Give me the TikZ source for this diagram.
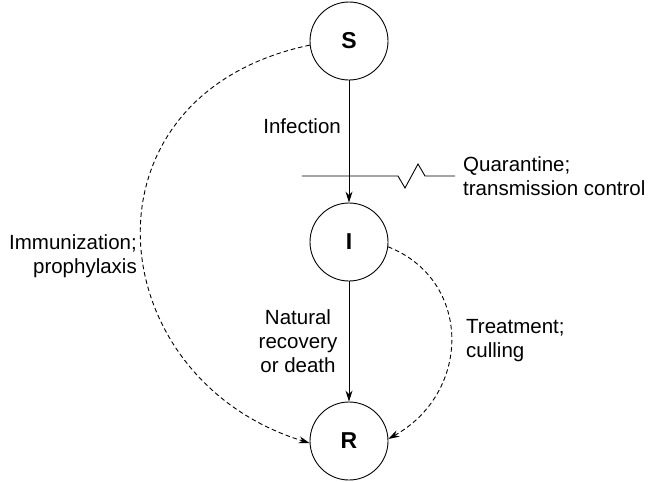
\documentclass[tikz,border=0pt]{standalone}
\usepackage{fontspec}
\setmainfont{Liberation Sans}
\usetikzlibrary{arrows.meta, positioning}

\begin{document}
\begin{tikzpicture}[x=1pt, y=-1pt,
        state/.style={draw, circle, minimum size=78pt, inner sep=0pt, line width=0.9pt,
            font=\fontsize{23}{26}\selectfont\bfseries},
        flow/.style={-{Stealth[length=11pt, width=7pt]}, line width=0.9pt},
        control/.style={flow, dash pattern=on 4.5pt off 3pt},
        note/.style={inner sep=0pt, font=\fontsize{20.5}{24}\selectfont}]

        \useasboundingbox (0,0) rectangle (659,482);

        \def\midx{349}

        \node[state] (S) at (\midx, 41) {S};
        \node[state] (I) at (\midx, 242) {I};
        \node[state] (R) at (\midx, 441) {R};

        \draw[flow] (S) -- (I);
        \draw[flow] (I) -- (R);
        \draw[control] (S.186) .. controls (72, 95) and (98, 378) .. (R.183);
        \draw[control] (I.-7) .. controls (472, 280) and (472, 392) .. (R.3);

        \coordinate (qstart) at (302, 176);
        \coordinate (qend) at (455, 176);
        \draw[line width=0.9pt] (qstart) -- (398, 176) -- (405, 188) -- (418, 164) -- (425, 176) -- (qend);

        \node[note, anchor=base east] (infection) at (341, 133) {Infection};
        \node[note, anchor=west, align=left] (quarantine) at (463, 176) {Quarantine;\\transmission control};
        \node[note, anchor=north, align=center] (natural) at (298, 309) {Natural\\recovery\\or death};
        \node[note, anchor=north east, align=right] (immunization) at (137, 234) {Immunization;\\prophylaxis};
        \node[note, anchor=north west, align=left] (treatment) at (466, 319) {Treatment;\\culling};

\end{tikzpicture}
\end{document}
